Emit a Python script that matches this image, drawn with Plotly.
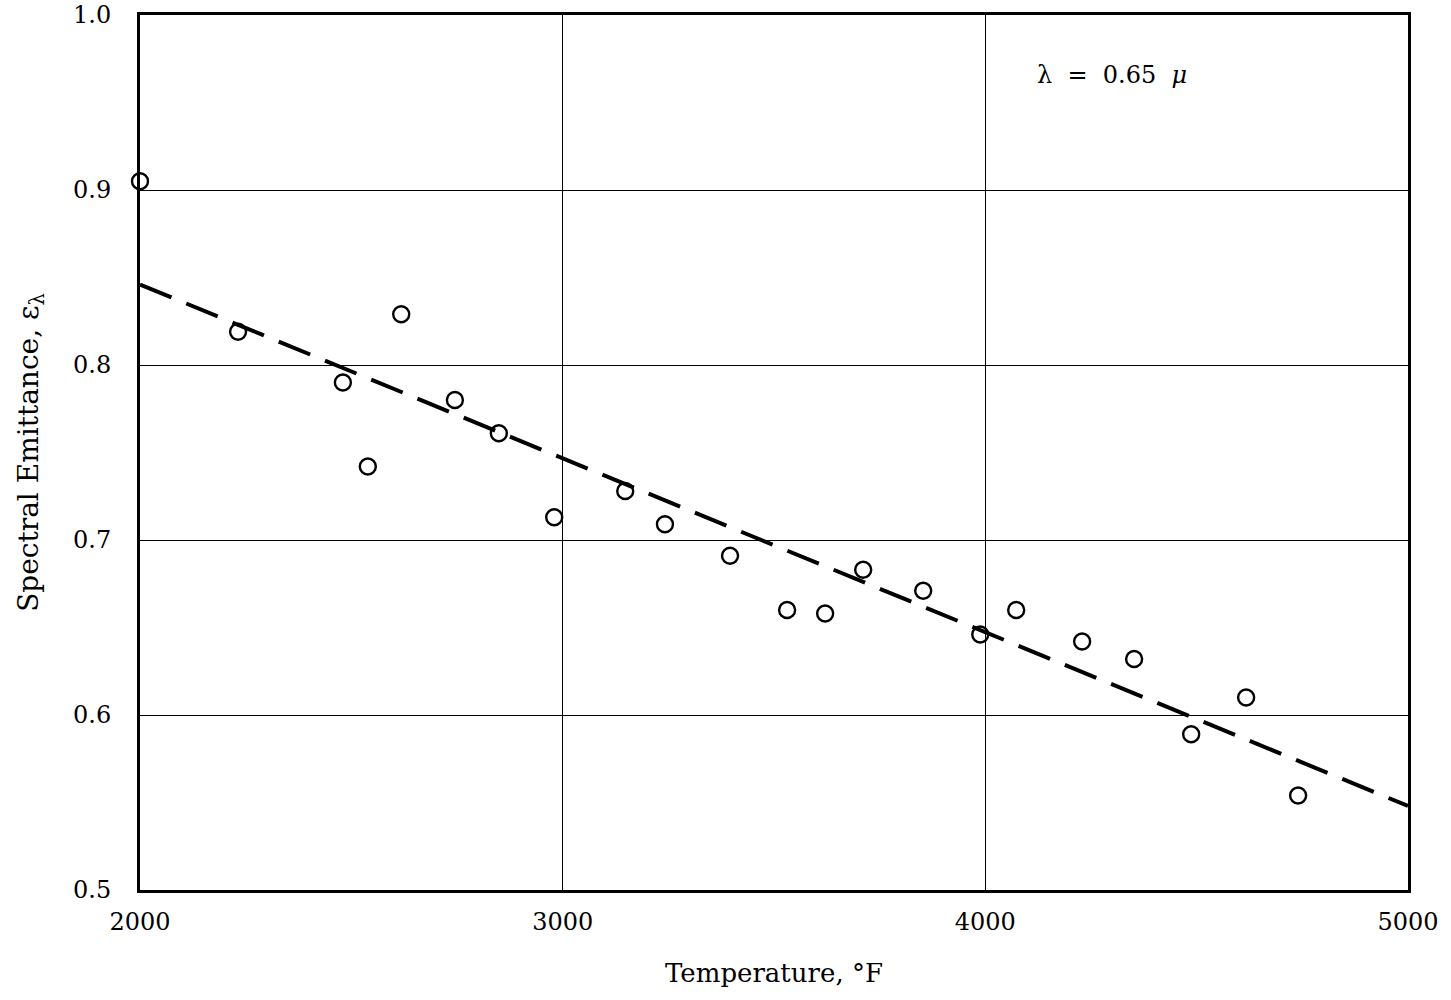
import plotly.graph_objects as go

temperature = [2000, 2232, 2480, 2539, 2618, 2745, 2849, 2980, 3148, 3242, 3396,
               3531, 3621, 3711, 3853, 3988, 4073, 4229, 4352, 4487, 4617, 4740]
emittance = [0.905, 0.819, 0.790, 0.742, 0.829, 0.780, 0.761, 0.713, 0.728, 0.709, 0.691,
             0.660, 0.658, 0.683, 0.671, 0.646, 0.660, 0.642, 0.632, 0.589, 0.610, 0.554]
fit_x = [2000, 5000]
fit_y = [0.846, 0.548]

x_ticks = [2000, 3000, 4000, 5000]
y_ticks = [0.5, 0.6, 0.7, 0.8, 0.9, 1.0]
y_ticklabels = ["0.5", "0.6", "0.7", "0.8", "0.9", "1.0"]

FONT = "DejaVu Serif"

fig = go.Figure()
fig.add_trace(go.Scatter(x=fit_x, y=fit_y, mode="lines",
                         line=dict(color="black", width=4, dash="34px,16px"),
                         showlegend=False, cliponaxis=False))
fig.add_trace(go.Scatter(x=temperature, y=emittance, mode="markers",
                         marker=dict(symbol="circle-open", size=16, color="black",
                                     line=dict(width=2.4, color="black")),
                         showlegend=False, cliponaxis=False))

fig.add_annotation(x=4118, y=0.966, xref="x", yref="y", text="λ  =  0.65  <i>μ</i>",
                   showarrow=False, xanchor="left", yanchor="middle",
                   font=dict(family=FONT, size=24, color="black"))

fig.update_layout(
    width=1451, height=1000,
    margin=dict(l=140, r=43, t=15, b=110),
    paper_bgcolor="white", plot_bgcolor="white",
    font=dict(family=FONT, size=24, color="black"),
)
fig.update_xaxes(range=[2000, 5000], tickvals=x_ticks, ticktext=[str(v) for v in x_ticks],
                 showgrid=True, gridcolor="black", gridwidth=1.3,
                 showline=True, linecolor="black", linewidth=3, mirror=True,
                 ticks="", zeroline=False, ticklabelstandoff=8, automargin=False,
                 tickfont=dict(family=FONT, size=24),
                 title=dict(text="Temperature, °F", standoff=30,
                            font=dict(family=FONT, size=26)))
fig.update_yaxes(range=[0.5, 1.0], tickvals=y_ticks, ticktext=y_ticklabels,
                 showgrid=True, gridcolor="black", gridwidth=1.3,
                 showline=True, linecolor="black", linewidth=3, mirror=True,
                 ticks="", zeroline=False, ticklabelstandoff=21, automargin=False,
                 tickfont=dict(family=FONT, size=24),
                 title=dict(text="Spectral Emittance, ε<sub>λ</sub>", standoff=27,
                            font=dict(family=FONT, size=28)))

fig.write_html("out.html")
